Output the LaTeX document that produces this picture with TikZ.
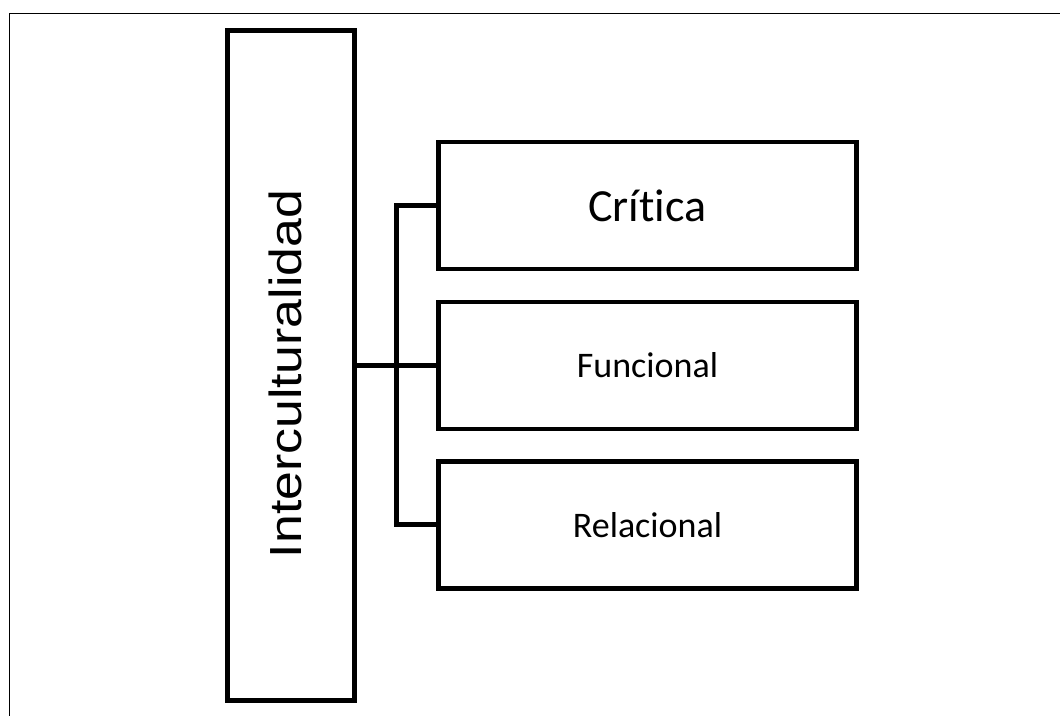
\documentclass[tikz,border=0pt]{standalone}
\usepackage{fontspec}
\setmainfont[Ligatures={NoCommon,NoRequired,NoContextual}]{Carlito}
\newfontfamily\arialf{Liberation Sans}
\begin{document}
\begin{tikzpicture}[x=0.75pt,y=-0.75pt,
  frameline/.style={line width=1.2pt},
  box/.style={draw,line width=3.5pt,inner sep=0pt,minimum width=313.8pt,minimum height=95.3pt},
  mainbox/.style={draw,line width=3.5pt,inner sep=0pt,minimum width=95.5pt,minimum height=502.3pt},
  conn/.style={line width=3.5pt}]
\useasboundingbox (0,0) rectangle (1060,715);
\draw[frameline] (9.5,720) -- (9.5,13.5) -- (1065,13.5);
\node[mainbox] (main) at (291,365.5) {};
\node[rotate=90] (mainlabel) at (285.5,374) {\arialf\fontsize{33.75pt}{40pt}\selectfont\scalebox{1.15}[1]{Interculturalidad}};
\node[box,font=\fontsize{34.5pt}{40pt}\selectfont] (crit) at (647.5,205.5) {Cr\'i\hbox{}tica};
\node[box,font=\fontsize{27pt}{32pt}\selectfont] (func) at (647.5,365.5) {Funcional};
\node[box,font=\fontsize{27pt}{32pt}\selectfont] (rel) at (647.5,524.8) {Relacional};
\coordinate (bt) at (396.7,205.5);
\coordinate (bb) at (396.7,524.8);
\draw[conn] (main.east) -- (func.west);
\draw[conn] (crit.west) -- (bt) -- (bb) -- (rel.west);
\end{tikzpicture}
\end{document}
